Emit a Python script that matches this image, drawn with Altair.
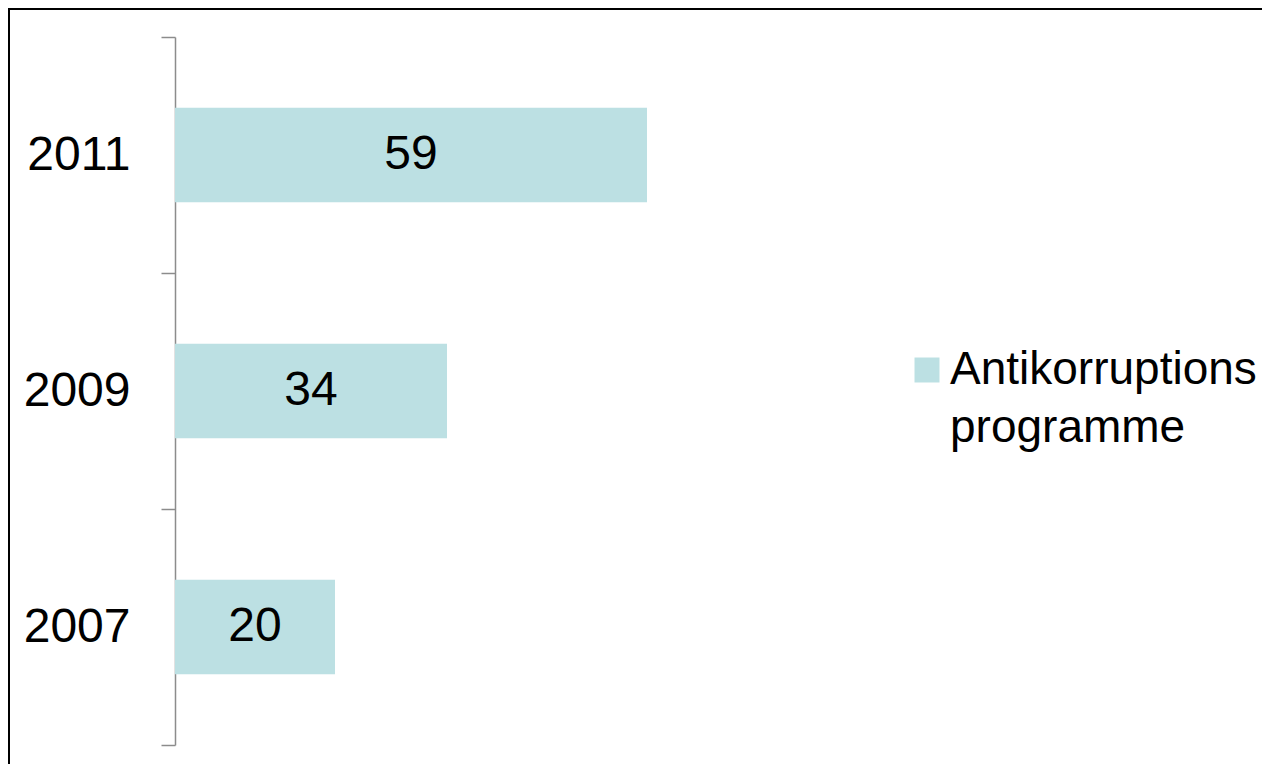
import altair as alt
import pandas as pd

years = ["2011", "2009", "2007"]
values = [59, 34, 20]
legend_lines = ["Antikorruptions", "programme"]

df = pd.DataFrame({"year": years, "value": values, "series": [legend_lines[0]] * len(years)})

FONT = "Liberation Sans"
BAR = "#BCE0E3"
GRAY = "#8C8C8C"
FS = 48

base = alt.Chart(df)

bars = base.mark_bar(color=BAR, height=alt.RelativeBandSize(0.4)).encode(
    y=alt.Y("year:N", sort=years,
            scale=alt.Scale(paddingInner=0, paddingOuter=0),
            axis=alt.Axis(title=None, tickBand="extent", domainColor=GRAY, tickColor=GRAY,
                          domainWidth=1.5, tickWidth=1.5, tickSize=14, labelPadding=31,
                          labelFontSize=FS, labelFont=FONT, labelColor="black", grid=False)),
    x=alt.X("value:Q", scale=alt.Scale(domain=[0, 90]), axis=None),
    color=alt.Color("series:N",
                    scale=alt.Scale(domain=legend_lines, range=[BAR, "transparent"]),
                    legend=alt.Legend(title=None, orient="none", legendX=729, legendY=310,
                                      padding=0, rowPadding=12,
                                      symbolType="square", symbolSize=625, symbolStrokeWidth=0,
                                      labelFontSize=46, labelFont=FONT, labelColor="black",
                                      labelLimit=1000, labelOffset=0)),
)

labels = base.transform_calculate(mid="datum.value / 2").mark_text(
    fontSize=FS, font=FONT, color="black", baseline="middle", align="center"
).encode(
    y=alt.Y("year:N", sort=years),
    x=alt.X("mid:Q"),
    text=alt.Text("value:Q"),
)

frame_df = pd.DataFrame({"a": [0]})
top_line = alt.Chart(frame_df).mark_rule(color="black", strokeWidth=2).encode(
    x=alt.value(-166), x2=alt.value(1100), y=alt.value(-28)
)
left_line = alt.Chart(frame_df).mark_rule(color="black", strokeWidth=2).encode(
    x=alt.value(-166), y=alt.value(-29), y2=alt.value(730)
)

chart = alt.layer(bars, labels, top_line, left_line).properties(
    width=720, height=708,
    autosize=alt.AutoSizeParams(type="none"),
    padding={"left": 167, "top": 29, "right": 367, "bottom": 19},
).configure(background="white").configure_view(stroke=None)

chart.save("out.html", embed_options={"renderer": "svg", "actions": False})
